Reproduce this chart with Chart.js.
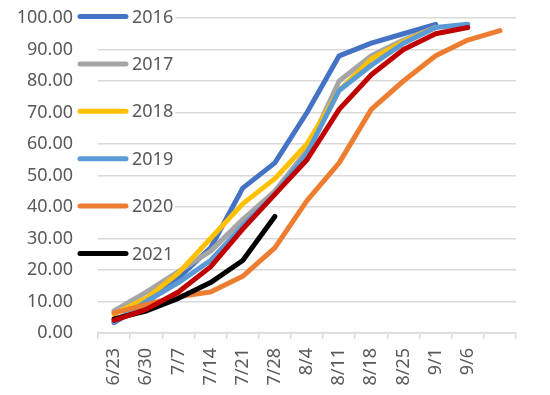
<!DOCTYPE html>
<html>
<head>
<meta charset="utf-8">
<script src="https://cdn.jsdelivr.net/npm/chart.js@4"></script>
<style>
  html, body { margin: 0; padding: 0; background: #fff; }
  #wrap { width: 550px; height: 395px; }
</style>
</head>
<body>
<div id="wrap"><canvas id="progressChart" width="550" height="395"></canvas></div>
<script>
// Week labels (last slot is empty)
const labels = ['6/23', '6/30', '7/7', '7/14', '7/21', '7/28', '8/4', '8/11', '8/18', '8/25', '9/1', '9/6', ''];

// Series values per year
const y2016 = [3.3, 9.5, 17.5, 27, 46, 54, 70, 88, 92, 95, 98];
const y2017 = [7, 13, 19.5, 26, 36, 45, 58, 80, 88, 93, 97];
const y2018 = [6, 11, 19, 30, 41, 49, 60, 77, 87, 92.5, 97];
const y2019 = [3.5, 10, 16, 23, 34, 44, 57, 77, 85, 92, 97, 98];
const y2020 = [6.4, 9, 11.6, 13, 18, 27, 42, 54, 71, 80, 88, 93, 96];
const y2021 = [4.5, 7, 11, 16, 23, 37];
const y2022 = [4, 7.5, 13, 21, 33, 44, 55, 71, 82, 90, 95, 97];

const seriesNames = ['2016', '2017', '2018', '2019', '2020', '2021', '2022'];
const seriesData = [y2016, y2017, y2018, y2019, y2020, y2021, y2022];
const seriesColors = ['#4472C4', '#A5A5A5', '#FFC000', '#5B9BD5', '#ED7D31', '#000000', '#C00000'];

const FONT = '"Noto Sans", "Liberation Sans", sans-serif';
const TEXT_COLOR = '#595959';
const GRID_COLOR = '#D9D9D9';

// Legend drawn on the left, over the y labels (Excel style)
const sideLegend = {
    id: 'sideLegend',
    afterDraw(chart) {
        const ctx = chart.ctx;
        ctx.save();
        ctx.font = '18px ' + FONT;
        ctx.textBaseline = 'middle';
        for (let i = 0; i < 6; i++) {
            const y = 16.5 + i * 47.4;
            const tw = ctx.measureText(seriesNames[i]).width;
            ctx.fillStyle = '#fff';
            ctx.fillRect(76, y - 10, 132 + tw + 2 - 76, 20);
            ctx.strokeStyle = seriesColors[i];
            ctx.lineWidth = 5;
            ctx.lineCap = 'round';
            ctx.beginPath();
            ctx.moveTo(80, y);
            ctx.lineTo(126, y);
            ctx.stroke();
            ctx.fillStyle = TEXT_COLOR;
            ctx.fillText(seriesNames[i], 132, y + 1);
        }
        ctx.restore();
    }
};

const datasets = seriesData.map((data, i) => ({
    label: seriesNames[i],
    data: data,
    borderColor: seriesColors[i],
    backgroundColor: seriesColors[i],
    borderWidth: 5,
    pointRadius: 0,
    tension: 0,
    borderCapStyle: 'round',
    borderJoinStyle: 'round',
    fill: false,
    order: -i
}));

const ctx = document.getElementById('progressChart').getContext('2d');
const progressChart = new Chart(ctx, {
    type: 'line',
    data: { labels: labels, datasets: datasets },
    options: {
        responsive: false,
        animation: false,
        layout: { padding: { top: 18, right: 34, left: 0, bottom: 0 } },
        scales: {
            x: {
                offset: true,
                grid: {
                    offset: true,
                    drawOnChartArea: false,
                    drawTicks: true,
                    tickLength: 6,
                    color: GRID_COLOR,
                    lineWidth: 1.5
                },
                border: { display: true, color: GRID_COLOR, width: 1.5 },
                ticks: {
                    autoSkip: false,
                    maxRotation: 90,
                    minRotation: 90,
                    padding: 9,
                    color: TEXT_COLOR,
                    font: { family: FONT, size: 18 }
                },
                afterFit(scale) {
                    scale.height = 62;
                    scale.paddingLeft = 0;
                    scale.paddingRight = 0;
                }
            },
            y: {
                min: 0,
                max: 100,
                ticks: {
                    stepSize: 10,
                    padding: 25,
                    color: TEXT_COLOR,
                    font: { family: FONT, size: 18 },
                    callback: v => v.toFixed(2)
                },
                grid: { color: GRID_COLOR, lineWidth: 1.5, drawTicks: false },
                border: { display: false },
                afterFit(scale) {
                    scale.width = 98;
                    scale.paddingTop = 0;
                    scale.paddingBottom = 0;
                }
            }
        },
        plugins: {
            legend: { display: false },
            tooltip: { enabled: false }
        }
    },
    plugins: [sideLegend]
});
</script>
</body>
</html>
